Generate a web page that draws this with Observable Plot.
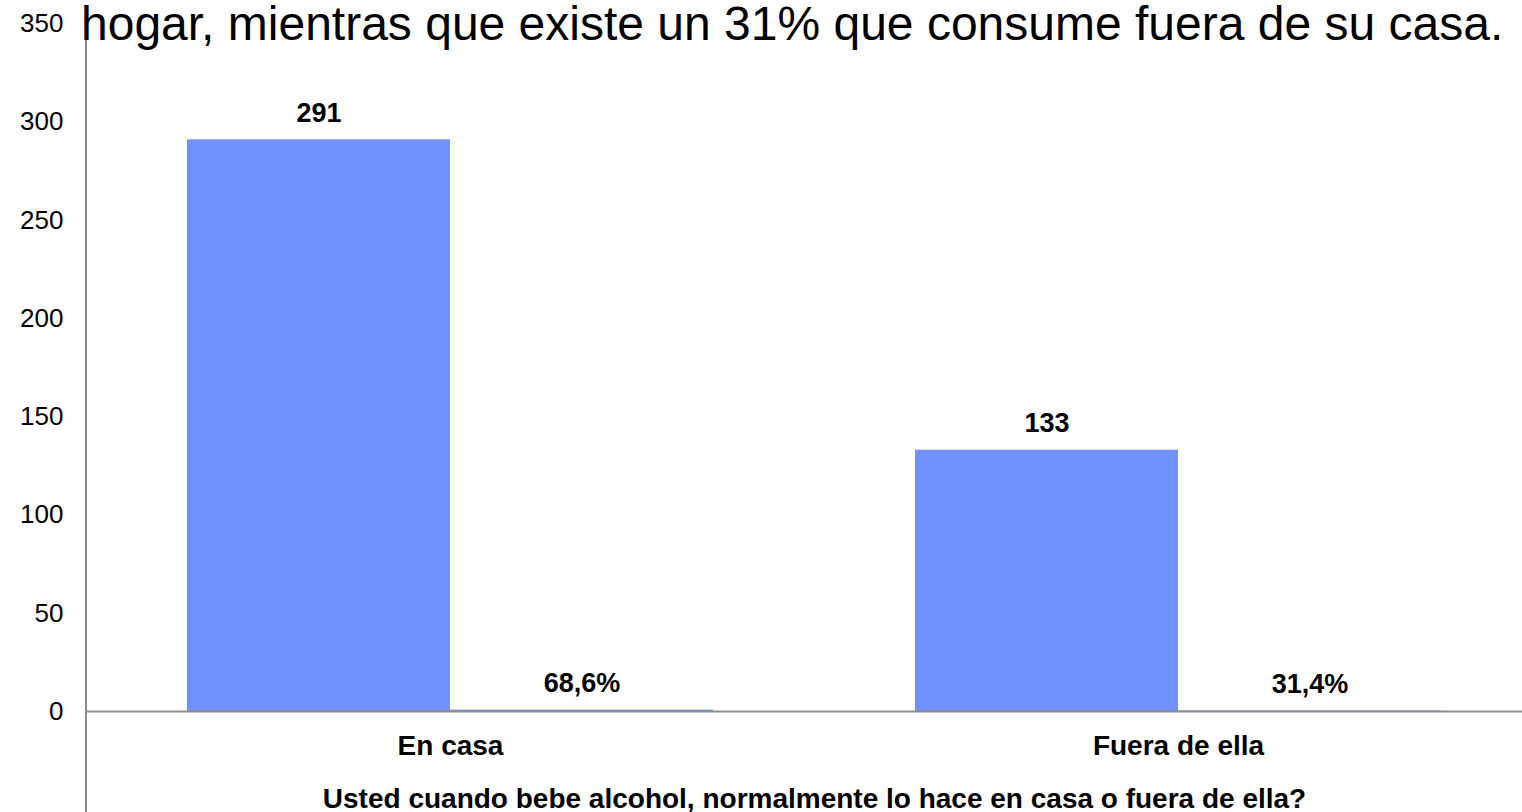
<!DOCTYPE html>
<html>
<head>
<meta charset="utf-8">
<script src="https://cdn.jsdelivr.net/npm/d3@7"></script>
<script src="https://cdn.jsdelivr.net/npm/@observablehq/plot@0.6"></script>
<style>
  html, body { margin: 0; padding: 0; background: #fff; overflow: hidden; width: 1522px; height: 812px; }
  #wrap { position: relative; width: 1542px; height: 812px; }
  #title { position: absolute; left: 81px; top: 0px; font-family: "Liberation Sans", Arial, sans-serif; font-size: 48px; line-height: 48px; white-space: nowrap; color: #000; z-index: 2; }
  #yline { position: absolute; left: 85px; top: 23px; width: 2px; height: 789px; background: #8c8c8c; z-index: 1; }
  [aria-label^="fx-axis"] text { font-weight: bold; font-size: 28px; }
</style>
</head>
<body>
<div id="wrap">
  <div id="title">hogar, mientras que existe un 31% que consume fuera de su casa.</div>
  <div id="yline"></div>
  <div id="chart"></div>
</div>
<script>
const categories = ["En casa", "Fuera de ella"];
const series = ["Frecuencia", "Porcentaje"];
const counts = [291, 133];
const shares = [0.686, 0.314];
const shareLabels = ["68,6%", "31,4%"];
const yTicks = [0, 50, 100, 150, 200, 250, 300, 350];
const axisTitle = "Usted cuando bebe alcohol, normalmente lo hace en casa o fuera de ella?";

const rows = categories.flatMap((c, i) => [
  {cat: c, serie: series[0], value: counts[i], label: String(counts[i])},
  {cat: c, serie: series[1], value: shares[i], label: shareLabels[i]}
]);

const chart = Plot.plot({
  width: 1542,
  height: 812,
  marginLeft: 86,
  marginRight: 0,
  marginTop: 23.4,
  marginBottom: 101,
  style: {fontFamily: "'Liberation Sans', Arial, sans-serif", fontSize: "26px", color: "#000", background: "transparent", overflow: "visible"},
  facet: {data: rows, x: "cat"},
  fx: {domain: categories, padding: 0, axis: "bottom", tickSize: 0, tickPadding: 24, label: axisTitle, labelAnchor: "center", labelOffset: 96},
  x: {domain: series, paddingInner: 0, paddingOuter: 0.379, axis: null},
  y: {domain: [0, 350], ticks: yTicks, tickSize: 0, tickPadding: 23, label: null},
  marks: [
    Plot.barY(rows, {x: "serie", y: "value", fill: "#7191fe"}),
    Plot.ruleY([0], {stroke: "#8c8c8c", strokeWidth: 2}),
    Plot.text(rows, {x: "serie", y: "value", text: "label", dy: -18, lineAnchor: "bottom", fontWeight: "bold", fontSize: 27, fill: "#000"})
  ]
});
document.getElementById("chart").appendChild(chart);
</script>
</body>
</html>
